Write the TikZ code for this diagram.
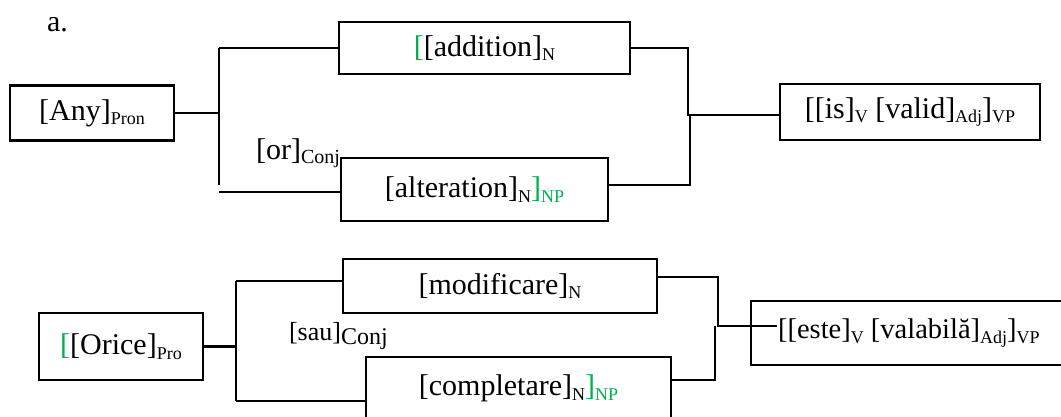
\documentclass[tikz,border=0pt]{standalone}
\usepackage{fontspec}
\setmainfont{Liberation Serif}
\definecolor{grn}{RGB}{0,176,80}
\newcommand{\sbs}[2][18]{\raisebox{-4.5pt}{\fontsize{#1}{#1}\selectfont #2}}
\begin{document}
\begin{tikzpicture}[x=1pt,y=-1pt,line width=2.1pt,
  box/.style={draw, line width=2.1pt, inner sep=0pt, font=\fontsize{30}{30}\selectfont},
  lbl/.style={inner sep=0pt, font=\fontsize{30}{30}\selectfont}]
\useasboundingbox (0,0) rectangle (1061,416);
\clip (0,0) rectangle (1061,416);
% ---------- top diagram ----------
\node[lbl, anchor=base west] (a) at (46,31) {a.};
\node[box, minimum width=164pt, minimum height=55pt] (any) at (92,113) {[Any]\sbs{Pron}};
\node[box, minimum width=291pt, minimum height=52pt] (add) at (484.5,48) {\textcolor{grn}{[}[addition]\sbs{N}};
\node[box, minimum width=267pt, minimum height=63pt] (alt) at (474.5,189.5) {[alteration]\sbs{N}\textcolor{grn}{]\sbs{NP}}};
\node[box, minimum width=260pt, minimum height=56pt] (vp) at (910,112) {[[is]\sbs{V} [valid]\sbs{Adj}]\sbs{VP}};
\node[lbl, anchor=base west] (or) at (255,159) {[or]\sbs[20]{Conj}};
\coordinate (j1) at (219,113);
\coordinate (j1t) at (219,48);
\coordinate (j1b) at (219,185);
\coordinate (j1c) at (219,192);
\coordinate (altin) at (341,192);
\coordinate (r1a) at (688,48);
\coordinate (r1b) at (688,115);
\coordinate (r1c) at (690,115);
\coordinate (r1d) at (690,185);
\coordinate (altout) at (608,185);
\coordinate (vpin) at (780,115);
\draw (any.east) -- (j1);
\draw (j1t) -- (j1b);
\draw (j1t) -- (add.west);
\draw (j1c) -- (altin);
\draw (add.east) -- (r1a) -- (r1b) -- (vpin);
\draw (r1c) -- (r1d) -- (altout);
% ---------- bottom diagram ----------
\node[box, minimum width=164pt, minimum height=67pt] (orice) at (121,346.5) {\textcolor{grn}{[}[Orice]\sbs{Pro}};
\node[box, minimum width=314pt, minimum height=54pt] (mod) at (500,286) {[modificare]\sbs{N}};
\node[box, minimum width=305pt, minimum height=63pt] (comp) at (518.5,388.5) {[completare]\sbs{N}\textcolor{grn}{]\sbs{NP}}};
\node[box, anchor=west, minimum height=64pt, inner xsep=27pt, font=\fontsize{28.5}{28.5}\selectfont] (este) at (750,333) {[[este]\sbs{V} [valabilă]\sbs{Adj}]\sbs{VP}};
\node[lbl, anchor=base west, font=\fontsize{26}{26}\selectfont] (sau) at (288,340) {[sau]\sbs[24]{Conj}};
\coordinate (j2) at (236,346.5);
\coordinate (j2t) at (236,281);
\coordinate (j2b) at (236,401);
\coordinate (modin) at (343,281);
\coordinate (compin) at (366,401);
\coordinate (modout) at (657,277);
\coordinate (r2a) at (718,277);
\coordinate (r2b) at (718,326);
\coordinate (estein) at (777,326);
\coordinate (r2c) at (715,326);
\coordinate (r2d) at (715,380);
\coordinate (compout) at (671,380);
\draw (orice.east) -- (j2);
\draw (j2t) -- (j2b);
\draw (j2t) -- (modin);
\draw (j2b) -- (compin);
\draw (modout) -- (r2a) -- (r2b) -- (estein);
\draw (r2c) -- (r2d) -- (compout);
\end{tikzpicture}
\end{document}
